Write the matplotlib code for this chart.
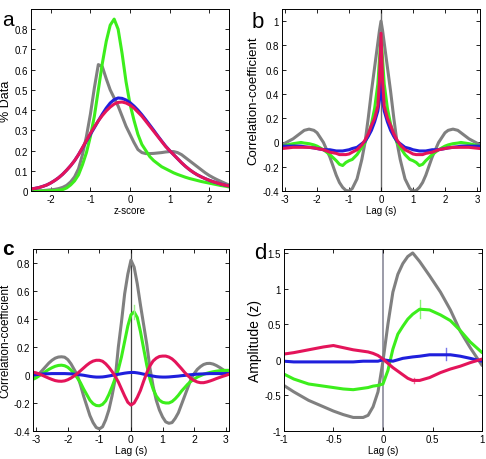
import numpy as np
import matplotlib
matplotlib.use("Agg")
import matplotlib.pyplot as plt

plt.rcParams['font.family'] = ['Liberation Sans', 'DejaVu Sans']
plt.rcParams['axes.unicode_minus'] = False

GRAY = '#808080'
GREEN = '#3cee1c'
BLUE = '#1f1fdc'
RED = '#e4145a'

# ---- panel a: distributions of z-scores (x from -2.5 to 2.5, step 0.1)
za = np.round(np.arange(-25, 26) / 10, 1)
a_gray = [0.0, 0.0, 0.001, 0.002, 0.004, 0.006, 0.008, 0.012, 0.018, 0.028,
          0.045, 0.07, 0.11, 0.18, 0.27, 0.38, 0.51, 0.625, 0.615, 0.555,
          0.5, 0.46, 0.42, 0.37, 0.32, 0.28, 0.24, 0.205, 0.19, 0.185,
          0.185, 0.186, 0.188, 0.19, 0.193, 0.195, 0.195, 0.19, 0.18, 0.165,
          0.15, 0.135, 0.12, 0.105, 0.09, 0.077, 0.066, 0.056, 0.047, 0.038,
          0.03]
a_green = [0.0, 0.0, 0.0, 0.0, 0.001, 0.001, 0.002, 0.004, 0.007, 0.015,
           0.03, 0.05, 0.08, 0.13, 0.19, 0.27, 0.37, 0.5, 0.63, 0.74,
           0.82, 0.85, 0.8, 0.68, 0.54, 0.43, 0.35, 0.28, 0.23, 0.2,
           0.17, 0.15, 0.135, 0.12, 0.11, 0.1, 0.09, 0.082, 0.075, 0.068,
           0.062, 0.057, 0.052, 0.047, 0.043, 0.039, 0.035, 0.031, 0.027, 0.024,
           0.02]
a_blue = [0.01, 0.013, 0.017, 0.023, 0.03, 0.04, 0.052, 0.066, 0.083, 0.103,
          0.125, 0.15, 0.18, 0.213, 0.247, 0.28, 0.313, 0.347, 0.38, 0.41,
          0.435, 0.452, 0.46, 0.458, 0.45, 0.437, 0.42, 0.4, 0.377, 0.352,
          0.326, 0.3, 0.273, 0.247, 0.222, 0.2, 0.18, 0.16, 0.14, 0.122,
          0.106, 0.092, 0.08, 0.07, 0.061, 0.053, 0.046, 0.04, 0.034, 0.029,
          0.025]
a_red = [0.01, 0.013, 0.017, 0.023, 0.03, 0.04, 0.052, 0.066, 0.083, 0.103,
         0.125, 0.15, 0.18, 0.215, 0.25, 0.285, 0.317, 0.347, 0.373, 0.396,
         0.415, 0.43, 0.438, 0.44, 0.435, 0.425, 0.41, 0.39, 0.37, 0.345,
         0.32, 0.295, 0.27, 0.245, 0.22, 0.2, 0.18, 0.16, 0.14, 0.122,
         0.106, 0.092, 0.08, 0.07, 0.061, 0.053, 0.046, 0.04, 0.034, 0.029,
         0.025]

# ---- panel b: autocorrelations
lag_b = [-3.1, -2.75, -2.5, -2.4, -2.25, -2.1, -2.0, -1.8, -1.6, -1.4, -1.3, -1.2, -1.1, -1.0,
         -0.9, -0.75, -0.6, -0.5, -0.4, -0.3, -0.2, -0.1, -0.05,
         0,
         0.05, 0.1, 0.2, 0.3, 0.4, 0.5, 0.6, 0.75, 0.9, 1.0, 1.1, 1.2, 1.3, 1.4,
         1.6, 1.8, 2.0, 2.1, 2.25, 2.4, 2.5, 2.75, 3.1]
b_gray = [-0.02, 0.03, 0.08, 0.1, 0.11, 0.1, 0.08, 0.0, -0.12, -0.27, -0.33, -0.37, -0.395, -0.4,
          -0.38, -0.3, -0.14, 0.0, 0.2, 0.42, 0.62, 0.82, 0.92,
          1.0,
          0.92, 0.82, 0.62, 0.42, 0.2, 0.0, -0.14, -0.3, -0.38, -0.4, -0.395, -0.37, -0.33, -0.27,
          -0.12, 0.0, 0.08, 0.1, 0.11, 0.1, 0.08, 0.03, -0.02]
b_green = [-0.03, -0.01, 0.0, -0.005, -0.01, -0.02, -0.03, -0.06, -0.1, -0.15, -0.18, -0.19, -0.165, -0.15,
           -0.14, -0.1, -0.04, 0.0, 0.06, 0.15, 0.28, 0.48, 0.68,
           0.87,
           0.68, 0.48, 0.28, 0.15, 0.06, 0.0, -0.04, -0.1, -0.14, -0.15, -0.165, -0.19, -0.18, -0.15,
           -0.1, -0.06, -0.03, -0.02, -0.01, -0.005, 0.0, -0.01, -0.03]
b_blue = [-0.03, -0.03, -0.03, -0.035, -0.04, -0.045, -0.05, -0.06, -0.06, -0.07, -0.07, -0.07, -0.065, -0.06,
          -0.05, -0.04, -0.01, 0.01, 0.05, 0.1, 0.17, 0.26, 0.35,
          0.5,
          0.35, 0.26, 0.17, 0.1, 0.05, 0.01, -0.01, -0.04, -0.05, -0.06, -0.065, -0.07, -0.07, -0.07,
          -0.06, -0.06, -0.05, -0.045, -0.04, -0.035, -0.03, -0.03, -0.03]
b_red = [-0.05, -0.04, -0.04, -0.04, -0.04, -0.045, -0.05, -0.06, -0.08, -0.09, -0.1, -0.1, -0.1, -0.095,
         -0.08, -0.06, -0.02, 0.02, 0.07, 0.14, 0.2, 0.3, 0.5,
         0.9,
         0.5, 0.3, 0.2, 0.14, 0.07, 0.02, -0.02, -0.06, -0.08, -0.095, -0.1, -0.1, -0.1, -0.09,
         -0.08, -0.06, -0.05, -0.045, -0.04, -0.04, -0.04, -0.04, -0.05]

# ---- panel c: cross-correlations (lag -3.1 .. 3.1, step 0.1)
lag_c = np.round(np.arange(-31, 32) / 10, 1)
c_gray = [-0.03, -0.01, 0.01, 0.035, 0.06, 0.085, 0.105, 0.12, 0.128, 0.13,    # -3.1..-2.2
          0.127, 0.11, 0.08, 0.04, 0.0, -0.07, -0.15, -0.22, -0.29, -0.34,     # -2.1..-1.2
          -0.375, -0.385, -0.37, -0.32, -0.25, -0.15, -0.03, 0.2, 0.38, 0.58,  # -1.1..-0.2
          0.72, 0.82, 0.77, 0.65, 0.5, 0.36, 0.22, 0.05, -0.08, -0.18,         # -0.1..0.8
          -0.25, -0.3, -0.335, -0.345, -0.34, -0.31, -0.27, -0.21, -0.15, -0.09,  # 0.9..1.8
          -0.03, 0.01, 0.04, 0.06, 0.075, 0.082, 0.083, 0.078, 0.068, 0.055,   # 1.9..2.8
          0.04, 0.025, 0.01]                                                   # 2.9..3.1
c_green = [-0.03, -0.02, -0.005, 0.01, 0.025, 0.04, 0.052, 0.062, 0.068, 0.07,
           0.066, 0.055, 0.035, 0.01, -0.02, -0.055, -0.1, -0.14, -0.18, -0.205,
           -0.218, -0.22, -0.21, -0.185, -0.14, -0.085, -0.025, 0.04, 0.13, 0.24,
           0.35, 0.43, 0.45, 0.41, 0.31, 0.19, 0.07, -0.03, -0.1, -0.15,
           -0.18, -0.195, -0.2, -0.2, -0.19, -0.17, -0.145, -0.115, -0.09, -0.065,
           -0.045, -0.03, -0.015, -0.005, 0.005, 0.012, 0.018, 0.023, 0.027, 0.03,
           0.032, 0.033, 0.033]
c_blue = [0.0, 0.003, 0.005, 0.007, 0.008, 0.009, 0.01, 0.01, 0.01, 0.01,
          0.01, 0.009, 0.008, 0.006, 0.004, 0.001, -0.002, -0.006, -0.01, -0.013,
          -0.015, -0.015, -0.014, -0.011, -0.007, -0.003, 0.001, 0.005, 0.009, 0.013,
          0.016, 0.018, 0.018, 0.015, 0.011, 0.006, 0.001, -0.004, -0.008, -0.012,
          -0.014, -0.015, -0.015, -0.014, -0.012, -0.01, -0.008, -0.005, -0.003, 0.0,
          0.002, 0.004, 0.006, 0.007, 0.008, 0.009, 0.01, 0.01, 0.01, 0.01,
          0.01, 0.01, 0.01]
c_red = [0.02, 0.015, 0.007, -0.003, -0.013, -0.023, -0.032, -0.04, -0.044, -0.045,
         -0.042, -0.034, -0.022, -0.007, 0.01, 0.03, 0.05, 0.07, 0.087, 0.099,
         0.105, 0.105, 0.098, 0.08, 0.055, 0.025, -0.01, -0.05, -0.1, -0.15,
         -0.195, -0.215, -0.2, -0.16, -0.11, -0.045, 0.015, 0.065, 0.1, 0.12,
         0.132, 0.135, 0.135, 0.128, 0.115, 0.095, 0.07, 0.045, 0.018, -0.005,
         -0.025, -0.04, -0.05, -0.055, -0.055, -0.05, -0.043, -0.035, -0.026, -0.018,
         -0.01, -0.003, 0.005]

# ---- panel d: triggered amplitudes
lag_d = [-1, -0.9, -0.75, -0.6, -0.5, -0.4, -0.3, -0.2, -0.15, -0.1, -0.05, 0, 0.05, 0.1, 0.15,
         0.2, 0.25, 0.3, 0.37, 0.47, 0.58, 0.68, 0.78, 0.88, 1.0]
d_gray = [-0.36, -0.45, -0.57, -0.66, -0.72, -0.77, -0.81, -0.81, -0.78, -0.66, -0.45, -0.02,
          0.5, 0.95, 1.2, 1.35, 1.45, 1.5, 1.38, 1.18, 0.95, 0.7, 0.4, 0.17, -0.08]
d_green = [-0.2, -0.27, -0.34, -0.37, -0.39, -0.41, -0.42, -0.4, -0.39, -0.37, -0.36, -0.34,
           -0.15, 0.15, 0.36, 0.47, 0.57, 0.64, 0.71, 0.7, 0.63, 0.55, 0.41, 0.25, 0.1]
d_blue = [-0.02, -0.03, -0.03, -0.03, -0.03, -0.03, -0.03, -0.02, -0.02, -0.02, -0.02, 0.0,
          -0.01, -0.02, 0.0, 0.02, 0.03, 0.04, 0.05, 0.07, 0.07, 0.07, 0.05, 0.02, -0.02]
d_red = [0.08, 0.1, 0.14, 0.18, 0.2, 0.17, 0.14, 0.12, 0.11, 0.09, 0.06, 0.01, -0.05, -0.11,
         -0.16, -0.21, -0.26, -0.29, -0.29, -0.25, -0.18, -0.13, -0.09, -0.04, 0.01]

# peak error bars (x, y, half-width)
c_err_green = (0.1, 0.45, 0.05)
d_err = [(0.37, 0.71, 0.13, GREEN), (0.64, 0.08, 0.09, BLUE), (0.31, -0.29, 0.04, RED)]

fig = plt.figure(figsize=(4.86, 4.6), dpi=100)
ax_a = fig.add_axes([0.0638, 0.5826, 0.4074, 0.3957])
ax_b = fig.add_axes([0.580, 0.5826, 0.408, 0.3957])
ax_c = fig.add_axes([0.068, 0.0609, 0.403, 0.3957])
ax_d = fig.add_axes([0.584, 0.0609, 0.408, 0.3957])

lw = 2.2
for ax, x, series in [(ax_a, za, [a_gray, a_green, a_blue, a_red]),
                      (ax_b, lag_b, [b_gray, b_green, b_blue, b_red]),
                      (ax_c, lag_c, [c_gray, c_green, c_blue, c_red]),
                      (ax_d, lag_d, [d_gray, d_green, d_blue, d_red])]:
    for y, col in zip(series, [GRAY, GREEN, BLUE, RED]):
        ax.plot(x, y, color=col, lw=lw, solid_joinstyle='round', solid_capstyle='round')
    ax.tick_params(direction='in', top=True, right=True, length=3, width=0.6,
                   labelsize=7, pad=2)
    for s in ax.spines.values():
        s.set_linewidth(0.7)
ax_c.tick_params(axis='x', labelsize=7.5)

# zero-lag lines
ax_b.axvline(0, color='#6a6a6a', lw=1, zorder=0)
ax_c.axvline(0, color='#444444', lw=0.9, zorder=0)
ax_d.axvline(0, color='#8a8a9a', lw=1.2, zorder=0)

ax_c.plot([c_err_green[0]] * 2, [c_err_green[1] - c_err_green[2], c_err_green[1] + c_err_green[2]],
          color='#9ff08a', lw=1)
for xe, ye, ee, col in d_err:
    ax_d.plot([xe, xe], [ye - ee, ye + ee], color=col, lw=1, alpha=0.6)

ax_a.set_xlim(-2.5, 2.5)
ax_a.set_ylim(0, 0.9)
ax_a.set_xticks([-2, -1, 0, 1, 2])
ax_a.set_yticks([0, 0.1, 0.2, 0.3, 0.4, 0.5, 0.6, 0.7, 0.8])
ax_a.set_xlabel('z-score', fontsize=7, labelpad=1)
ax_a.set_ylabel('% Data', fontsize=9, labelpad=2)

ax_b.set_xlim(-3.1, 3.1)
ax_b.set_ylim(-0.4, 1.1)
ax_b.set_xticks([-3, -2, -1, 0, 1, 2, 3])
ax_b.set_yticks([-0.4, -0.2, 0, 0.2, 0.4, 0.6, 0.8, 1])
ax_b.set_xlabel('Lag (s)', fontsize=7, labelpad=1)
ax_b.set_ylabel('Correlation-coefficient', fontsize=9.5, labelpad=2)

ax_c.set_xlim(-3.1, 3.1)
ax_c.set_ylim(-0.4, 0.9)
ax_c.set_xticks([-3, -2, -1, 0, 1, 2, 3])
ax_c.set_yticks([-0.4, -0.2, 0, 0.2, 0.4, 0.6, 0.8])
ax_c.set_xlabel('Lag (s)', fontsize=7.5, labelpad=1)
ax_c.set_ylabel('Correlation-coefficient', fontsize=8.5)
ax_c.yaxis.set_label_coords(-0.112, 0.5)

ax_d.set_xlim(-1, 1)
ax_d.set_ylim(-1, 1.556)
ax_d.set_xticks([-1, -0.5, 0, 0.5, 1])
ax_d.set_yticks([-1, -0.5, 0, 0.5, 1, 1.5])
ax_d.set_xlabel('Lag (s)', fontsize=7, labelpad=1)
ax_d.set_ylabel('Amplitude (z)', fontsize=10, labelpad=2)

fmt = matplotlib.ticker.FormatStrFormatter('%g')
for ax in [ax_a, ax_b, ax_c, ax_d]:
    ax.xaxis.set_major_formatter(fmt)
    ax.yaxis.set_major_formatter(fmt)

# panel letters
fig.text(0.004, 0.975, 'a', fontsize=15, va='top')
fig.text(0.518, 0.975, 'b', fontsize=16, va='top')
fig.text(0.004, 0.478, 'c', fontsize=15, fontweight='bold', va='top')
fig.text(0.522, 0.472, 'd', fontsize=16, va='top')

fig.savefig('out.png', dpi=100)
